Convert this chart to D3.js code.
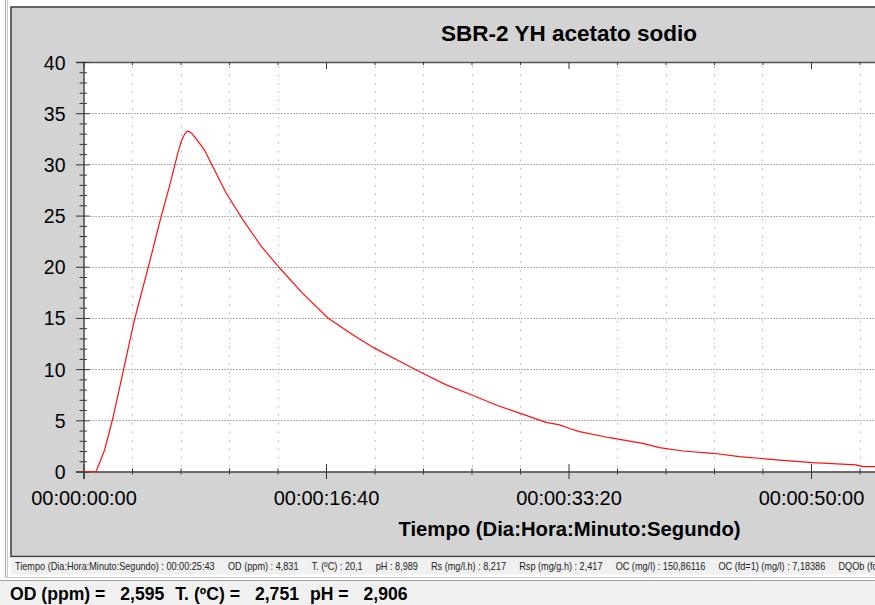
<!DOCTYPE html>
<html>
<head>
<meta charset="utf-8">
<script src="https://cdn.jsdelivr.net/npm/d3@7"></script>
<style>
  html, body { margin: 0; padding: 0; background: #ffffff; overflow: hidden; }
  svg { display: block; font-family: "Liberation Sans", Arial, sans-serif; }
</style>
</head>
<body>
<svg id="chart" width="875" height="605"></svg>
<script>
// Dissolved oxygen (OD) trace, time in seconds since start
const timeSec = [0, 52, 87, 121, 162, 210, 272, 320, 355, 389, 404, 416, 427, 437, 447, 458, 499, 533, 588,
  657, 733, 808, 904, 1008, 1110, 1200, 1317, 1399, 1496, 1599, 1702, 1798, 1908, 1963, 2004,
  2045, 2169, 2306, 2375, 2472, 2596, 2705, 2870, 3008, 3186, 3216, 3270];
const odPpm = [0, 0, 2.1, 5.2, 9.6, 14.8, 20.4, 24.9, 27.9, 31.1, 32.3, 32.9, 33.25, 33.2, 33.0, 32.7, 31.4, 29.8, 27.2,
  24.6, 22.0, 19.9, 17.4, 15.0, 13.35, 12.05, 10.6, 9.6, 8.46, 7.5, 6.5, 5.7, 4.8, 4.55, 4.2,
  3.9, 3.3, 2.75, 2.33, 2.0, 1.78, 1.45, 1.12, 0.86, 0.64, 0.47, 0.47];

const yMajorTicks = [0, 5, 10, 15, 20, 25, 30, 35, 40];
const xMajorTicks = [0, 1000, 2000, 3000];

const chartTitle = "SBR-2 YH acetato sodio";
const xAxisTitle = "Tiempo (Dia:Hora:Minuto:Segundo)";

// Cursor readout shown in the status strip
const statusItems = [
  "Tiempo (Dia:Hora:Minuto:Segundo) : 00:00:25:43",
  "OD (ppm) : 4,831",
  "T. (ºC) : 20,1",
  "pH : 8,989",
  "Rs (mg/l.h) : 8,217",
  "Rsp (mg/g.h) : 2,417",
  "OC (mg/l) : 150,86116",
  "OC (fd=1) (mg/l) : 7,18386",
  "DQOb (fd="
];
const readoutLabels = ["OD (ppm) =", "T. (ºC) =", "pH ="];
const readoutValues = ["2,595", "2,751", "2,906"];

const svg = d3.select("#chart");
const W = 875, H = 605;

const plot = { left: 83.5, right: 1053.5, top: 62, bottom: 471.5 };

const x = d3.scaleLinear().domain([0, 4000]).range([plot.left, plot.right]);
const y = d3.scaleLinear().domain([0, 40]).range([plot.bottom, plot.top]);

const pad2 = n => String(n).padStart(2, "0");
const fmtTime = s => {
  const d = Math.floor(s / 86400), h = Math.floor(s / 3600) % 24,
        m = Math.floor(s / 60) % 60, sec = Math.round(s % 60);
  return [d, h, m, sec].map(pad2).join(":");
};

// ---- window chrome ----
svg.append("line").attr("x1", 5.5).attr("x2", 5.5).attr("y1", 0).attr("y2", 578)
  .attr("stroke", "#a8a8a8");
svg.append("line").attr("x1", 7.5).attr("x2", 7.5).attr("y1", 0).attr("y2", 578)
  .attr("stroke", "#c8c8c8");

// grey chart panel
svg.append("rect").attr("x", 11).attr("y", 7).attr("width", W).attr("height", 549.5)
  .attr("fill", "#d3d3d3").attr("stroke", "#3a3a3a").attr("stroke-width", 1.5);

// status strip
svg.append("rect").attr("x", 11).attr("y", 557.5).attr("width", W).attr("height", 17)
  .attr("fill", "#f0f0f0");
svg.append("line").attr("x1", 5).attr("x2", W).attr("y1", 577.5).attr("y2", 577.5)
  .attr("stroke", "#c8c8c8");
svg.append("rect").attr("x", 0).attr("y", 581).attr("width", W).attr("height", H - 581)
  .attr("fill", "#f0f0f0");
svg.append("line").attr("x1", 0).attr("x2", W).attr("y1", 580.5).attr("y2", 580.5)
  .attr("stroke", "#a0a0a0");

// ---- plot area ----
svg.append("rect").attr("x", plot.left).attr("y", plot.top)
  .attr("width", plot.right - plot.left).attr("height", plot.bottom - plot.top)
  .attr("fill", "#ffffff");

const xMinor = d3.range(0, 4001, 200).filter(v => v % 1000 !== 0);
const yMinor = d3.range(0, 41, 1).filter(v => v % 5 !== 0);

// vertical dotted grid on minor time ticks
svg.append("g").selectAll("line").data(xMinor).join("line")
  .attr("x1", d => Math.round(x(d)) + 0.5).attr("x2", d => Math.round(x(d)) + 0.5)
  .attr("y1", plot.top + 4).attr("y2", plot.bottom - 3)
  .attr("stroke", "#b4b4b4").attr("stroke-dasharray", "1.5,7");

// horizontal dotted grid on major OD ticks
svg.append("g").selectAll("line").data(yMajorTicks.filter(v => v > 0 && v < 40)).join("line")
  .attr("x1", plot.left + 6).attr("x2", plot.right)
  .attr("y1", d => Math.round(y(d)) + 0.5).attr("y2", d => Math.round(y(d)) + 0.5)
  .attr("stroke", "#606060").attr("stroke-dasharray", "1,2");

// top frame line with inward ticks
svg.append("line").attr("x1", plot.left).attr("x2", plot.right)
  .attr("y1", plot.top + 0.5).attr("y2", plot.top + 0.5).attr("stroke", "#555").attr("stroke-width", 1.5);

const topMinor = d3.axisBottom(x).tickValues(xMinor).tickSize(3).tickFormat("");
const topMajor = d3.axisBottom(x).tickValues(xMajorTicks).tickSize(7).tickFormat("");
[topMinor, topMajor].forEach(ax => {
  const g = svg.append("g").attr("transform", `translate(0,${plot.top})`).call(ax);
  g.select(".domain").remove();
  g.selectAll("line").attr("stroke", "#333");
});

// ---- x axis ----
const xMinorAxis = d3.axisBottom(x).tickValues(xMinor).tickSize(3).tickFormat("");
const gxm = svg.append("g").attr("transform", `translate(0,${plot.bottom})`).call(xMinorAxis);
gxm.select(".domain").remove();
gxm.selectAll("line").attr("y1", -3).attr("stroke", "#333");

const xMajorAxis = d3.axisBottom(x).tickValues(xMajorTicks).tickSize(7.5).tickPadding(15)
  .tickFormat(fmtTime);
const gx = svg.append("g").attr("transform", `translate(0,${plot.bottom})`).call(xMajorAxis);
gx.select(".domain").attr("stroke", "#444").attr("stroke-width", 1.5);
gx.selectAll("line").attr("y1", -7.5).attr("stroke", "#333");
gx.selectAll("text").attr("font-size", 20).attr("fill", "#000")
  .attr("font-family", "Liberation Sans, Arial, sans-serif")
  .attr("dy", 0).attr("y", 33.5);

// ---- y axis ----
const yMinorAxis = d3.axisLeft(y).tickValues(yMinor).tickSize(4).tickFormat("");
const gym = svg.append("g").attr("transform", `translate(${plot.left},0)`).call(yMinorAxis);
gym.select(".domain").remove();
gym.selectAll("line").attr("x1", 3.5).attr("stroke", "#333");

const yMajorAxis = d3.axisLeft(y).tickValues(yMajorTicks).tickSize(7.5).tickPadding(10);
const gy = svg.append("g").attr("transform", `translate(${plot.left},0)`).call(yMajorAxis);
gy.select(".domain").attr("stroke", "#444").attr("stroke-width", 1.5);
gy.selectAll("line").attr("x1", 6).attr("stroke", "#333");
gy.selectAll("text").attr("font-size", 19.5).attr("fill", "#000")
  .attr("font-family", "Liberation Sans, Arial, sans-serif")
  .attr("x", -18).attr("dy", "0.36em");

// ---- OD trace ----
const series = timeSec.map((t, i) => ({ t, v: odPpm[i] }));
svg.append("path").datum(series)
  .attr("fill", "none").attr("stroke", "#ff1010").attr("stroke-width", 1.2)
  .attr("d", d3.line().x(d => x(d.t)).y(d => y(d.v)));

// ---- titles ----
svg.append("text").attr("x", 569).attr("y", 41).attr("text-anchor", "middle")
  .attr("font-size", 22.5).attr("font-weight", "bold").text(chartTitle);
svg.append("text").attr("x", 569.5).attr("y", 536).attr("text-anchor", "middle")
  .attr("font-size", 20.3).attr("font-weight", "bold").text(xAxisTitle);

// ---- status strip text ----
const statusG = svg.append("g");
const st = statusG.selectAll("text").data(statusItems).join("text")
  .attr("y", 570).attr("font-size", 10.5).attr("fill", "#222").text(d => d);
const firstW = st.nodes()[0].getComputedTextLength();
const sx = 200 / firstW;
let cx = 0;
st.each(function () {
  d3.select(this).attr("x", cx);
  cx += this.getComputedTextLength() + 13 / sx;
});
statusG.attr("transform", `translate(15,0) scale(${sx},1)`);

// ---- live readout ----
const ro = svg.append("text").attr("x", 10).attr("y", 599.5)
  .attr("font-size", 17.6).attr("font-weight", "bold").attr("fill", "#000");
readoutLabels.forEach((lab, i) => {
  ro.append("tspan").attr("dx", i === 0 ? 0 : 11).text(lab);
  ro.append("tspan").attr("dx", 15).text(readoutValues[i]);
});
</script>
</body>
</html>
